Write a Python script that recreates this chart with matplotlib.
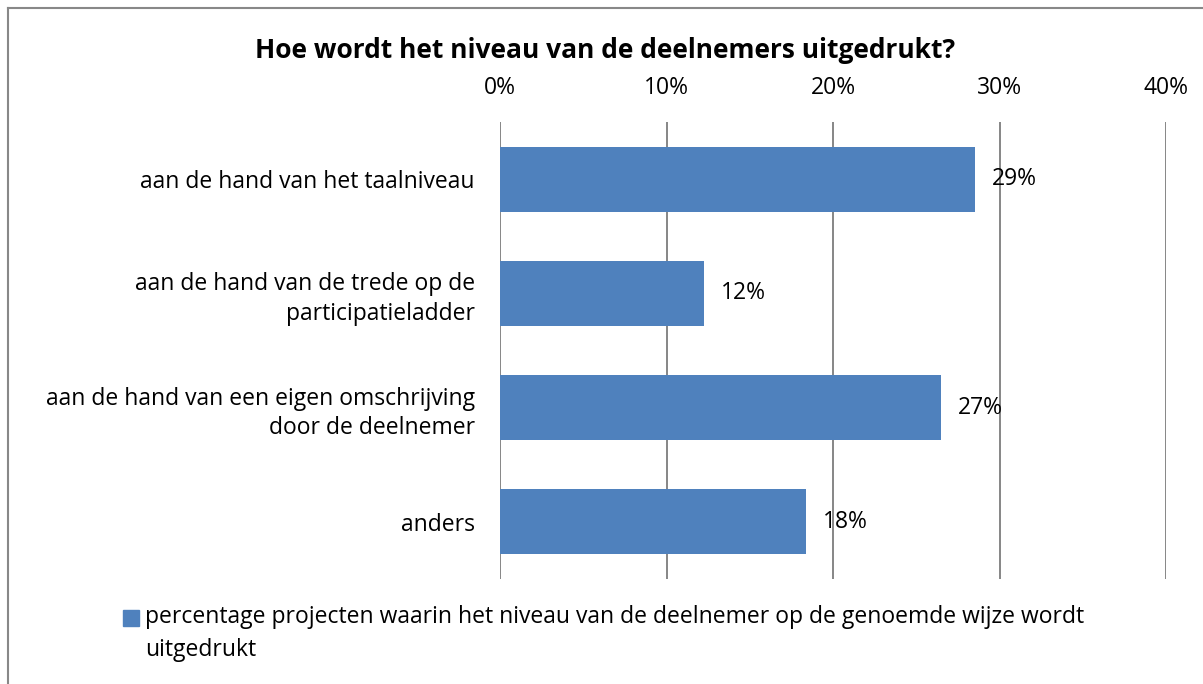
import numpy as np
import matplotlib.pyplot as plt
from matplotlib.lines import Line2D
from matplotlib.patches import Rectangle

# data
categories = ['aan de hand van het taalniveau',
              'aan de hand van de trede op de\nparticipatieladder',
              'aan de hand van een eigen omschrijving\ndoor de deelnemer',
              'anders']
values = [0.285, 0.1225, 0.265, 0.184]
value_labels = ['29%', '12%', '27%', '18%']
ticks = [0, 0.1, 0.2, 0.3, 0.4]
tick_labels = ['0%', '10%', '20%', '30%', '40%']
series_name = ('percentage projecten waarin het niveau van de deelnemer op de genoemde wijze wordt\n'
               'uitgedrukt')

plt.rcParams['font.family'] = ['Open Sans', 'DejaVu Sans']
W, H = 1203, 684
fs = 16.5
fig = plt.figure(figsize=(W / 100, H / 100), dpi=100)

# axes placed in pixel terms
ax = fig.add_axes([500 / W, 1 - 579 / H, (1166 - 500) / W, (579 - 122) / H])

bar_color = '#4F81BD'
y = np.arange(len(categories))
bars = ax.barh(y, values, height=0.57, color=bar_color, zorder=3)
ax.set_ylim(len(categories) - 0.5, -0.5)
ax.set_xlim(0, 0.4)

ax.set_xticks(ticks)
ax.set_xticklabels(tick_labels, fontsize=fs)
ax.xaxis.tick_top()
ax.tick_params(axis='x', length=0, pad=16)
ax.set_yticks(y)
ax.set_yticklabels(categories, fontsize=fs, linespacing=1.3)
ax.tick_params(axis='y', length=0, pad=18)
for s in ax.spines.values():
    s.set_visible(False)
ax.grid(axis='x', color='#868686', linewidth=1.4, zorder=1)
ax.set_axisbelow(True)

for b, lab in zip(bars, value_labels):
    ax.annotate(lab, (b.get_width(), b.get_y() + b.get_height() / 2),
                xytext=(17, 0), textcoords='offset pixels',
                va='center', ha='left', fontsize=fs, zorder=4)

fig.text(605 / W, 1 - 50 / H, 'Hoe wordt het niveau van de deelnemers uitgedrukt?',
         ha='center', va='center', fontsize=19, fontweight='bold')

# legend (marker next to first line of the wrapped text)
fig.add_artist(Rectangle((123 / W, 1 - 626 / H), 16 / W, 16 / H,
                         transform=fig.transFigure, color=bar_color))
fig.text(145 / W, 1 - 605 / H, series_name, ha='left', va='top',
         fontsize=fs, linespacing=1.5)

# chart frame (left and top edges visible)
fig.add_artist(Line2D([8 / W, 8 / W], [0, 1 - 8 / H], color='#888888', lw=1.5))
fig.add_artist(Line2D([8 / W, 1], [1 - 8 / H, 1 - 8 / H], color='#888888', lw=1.5))

fig.savefig('out.png', dpi=100)
